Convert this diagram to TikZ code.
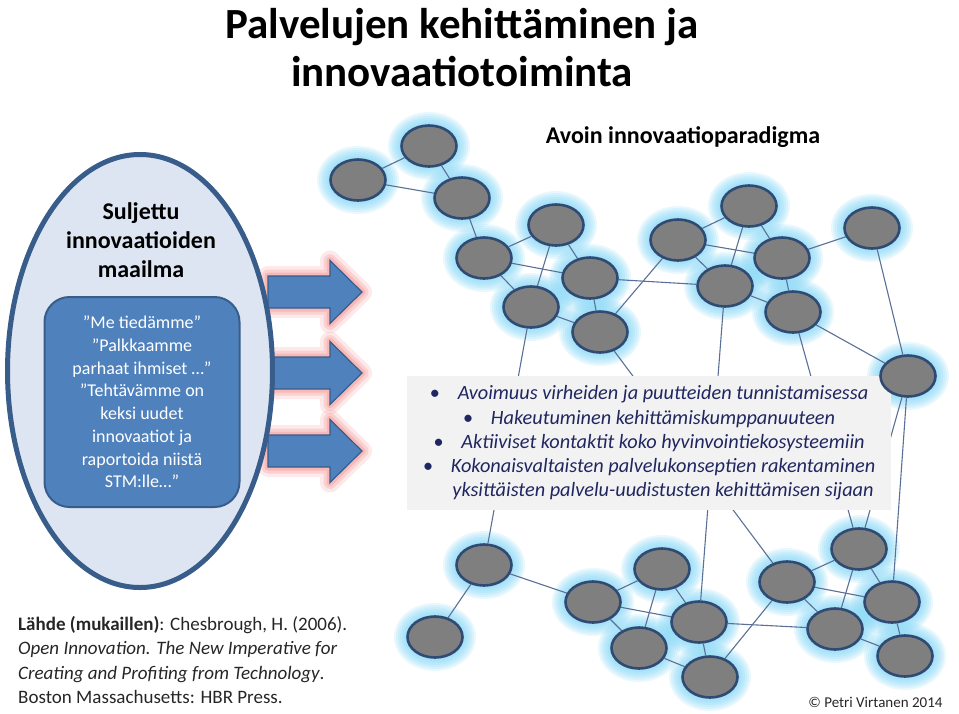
\documentclass[tikz,border=0pt]{standalone}
\usepackage{fontspec}
\setmainfont{Carlito}
\usepackage{tikz}
\usetikzlibrary{shapes.geometric, positioning}

\definecolor{nodegray}{RGB}{127,127,127}
\definecolor{nodeline}{RGB}{47,75,115}
\definecolor{edgecol}{RGB}{90,112,150}
\definecolor{glowcol}{RGB}{120,210,245}
\definecolor{arrowblue}{RGB}{79,129,189}
\definecolor{arrowline}{RGB}{56,93,138}
\definecolor{glowred}{RGB}{240,110,110}
\definecolor{ovalfill}{RGB}{220,229,241}
\definecolor{boxgray}{RGB}{242,242,242}
\definecolor{bullettext}{RGB}{32,38,96}
\definecolor{srctext}{RGB}{38,38,38}

\pgfdeclarelayer{glowlayer}
\pgfdeclarelayer{backlayer}
\pgfsetlayers{glowlayer,backlayer,main}

\begin{document}
\begin{tikzpicture}[x=1pt, y=-1pt,
  net/.style={ellipse, draw=nodeline, line width=2.6pt, fill=nodegray, minimum width=55pt, minimum height=41pt, inner sep=0pt},
  link/.style={draw=edgecol, line width=1.1pt},
  bigarrow/.style={draw=arrowline, line width=1.2pt, fill=arrowblue, line join=miter,
    preaction={draw=glowred, opacity=0.15, line width=20pt, line join=round},
    preaction={draw=glowred, opacity=0.2, line width=13pt, line join=round},
    preaction={draw=glowred, opacity=0.25, line width=7pt, line join=round}}]

\useasboundingbox (0,0) rectangle (959,713);

% Title
\node[font=\fontsize{43}{48}\selectfont\bfseries, align=center] (title) at (462,48) {Palvelujen kehittäminen ja\\innovaatiotoiminta};

% Arrows out of the closed world
\foreach \a/\y in {arrow1/292, arrow2/373, arrow3/451} {
  \coordinate (\a) at (268,\y);
  \draw[bigarrow] (\a) ++(0,-16) -- ++(62,0) -- ++(0,-15.5) -- ++(32,31.5) -- ++(-32,31.5) -- ++(0,-15.5) -- ++(-62,0) -- cycle;
}

% Closed innovation
\node[ellipse, draw=arrowline, line width=5pt, fill=ovalfill, minimum width=265pt, minimum height=433pt] (closed) at (140,371) {};
\node[font=\fontsize{24}{29}\selectfont\bfseries, align=center] (closedtitle) at (141,240) {Suljettu\\innovaatioiden\\maailma};
\node[rectangle, rounded corners=25pt, fill=arrowblue, draw=arrowline, line width=2pt, minimum width=195pt, minimum height=210pt] (quotes) at (142,402) {};
\node[font=\fontsize{18}{22.7}\selectfont, text=white, align=center] (quotetext) at (142,402) {”Me tiedämme”\\ ”Palkkaamme\\parhaat ihmiset …”\\”Tehtävämme on\\keksi uudet\\innovaatiot ja\\raportoida niistä\\STM:lle…”};

% Open innovation network
\node[font=\fontsize{24}{28}\selectfont\bfseries] (opentitle) at (683,137) {Avoin innovaatioparadigma};

\foreach \n/\x/\y in {n1/429/146, n2/358/180, n3/462/198, n4/556/225, n5/484/258, n6/590/278, n7/531/307, n8/600/332,
    n9/678/240, n10/749/206, n11/782/258, n12/725/286, n13/793/312, n14/872/228, n15/908/376,
    n16/484/565, n17/435/637, n18/593/602, n19/662/569, n20/699/622, n21/639/648, n22/710/677,
    n23/787/582, n24/859/549, n25/892/602, n26/835/629, n27/905/656} {
  \node[net] (\n) at (\x,\y) {};
  \begin{pgfonlayer}{glowlayer}
    \foreach \r in {13,11,9,7,5,3}
      \fill[glowcol, opacity=0.16] (\n.center) ellipse [x radius=28pt+\r pt, y radius=21pt+\r pt];
  \end{pgfonlayer}
}

\begin{pgfonlayer}{backlayer}
\foreach \a/\b in {n2/n1, n1/n3, n2/n3, n3/n5, n5/n4, n4/n6, n5/n6, n4/n7, n5/n7, n7/n8, n6/n8, n6/n12,
    n8/n9, n9/n10, n9/n11, n9/n12, n10/n12, n10/n11, n11/n14, n11/n13, n12/n13, n13/n15, n14/n15,
    n7/n16, n8/n23, n12/n20, n13/n24, n15/n24, n15/n25,
    n16/n17, n16/n18, n18/n19, n18/n21, n18/n20, n19/n21, n19/n20, n20/n22, n21/n22, n20/n26,
    n22/n23, n23/n24, n23/n25, n23/n26, n24/n26, n24/n25, n26/n27, n25/n27}
  \draw[link] (\a) -- (\b);

% Bullet box
\node[fill=boxgray, minimum width=484pt, minimum height=134pt, text=bullettext, align=center,
  font=\fontsize{20.3}{24.3}\selectfont\itshape] (bullets) at (649,443)
  {\textbullet\hspace{18pt}Avoimuus virheiden ja puutteiden tunnistamisessa\\
   \textbullet\hspace{18pt}Hakeutuminen kehittämiskumppanuuteen\\
   \textbullet\hspace{18pt}Aktiiviset kontaktit koko hyvinvointiekosysteemiin\\
   \textbullet\hspace{18pt}Kokonaisvaltaisten palvelukonseptien rakentaminen\\
   \phantom{\textbullet\hspace{18pt}}yksittäisten palvelu-uudistusten kehittämisen sijaan};
\end{pgfonlayer}

% Source and copyright
\node[anchor=north west, inner sep=0pt, align=left, text=srctext, font=\fontsize{19}{24.5}\selectfont] (source) at (18,616)
  {\textbf{Lähde (mukaillen)}: Chesbrough, H. (2006).\\
   \textit{Open Innovation. The New Imperative for}\\
   \textit{Creating and Profiting from Technology}.\\
   Boston Massachusetts: HBR Press.};
\node[anchor=east, text=srctext, font=\fontsize{15}{18}\selectfont] (copyright) at (946,702) {© Petri Virtanen 2014};

\end{tikzpicture}
\end{document}
